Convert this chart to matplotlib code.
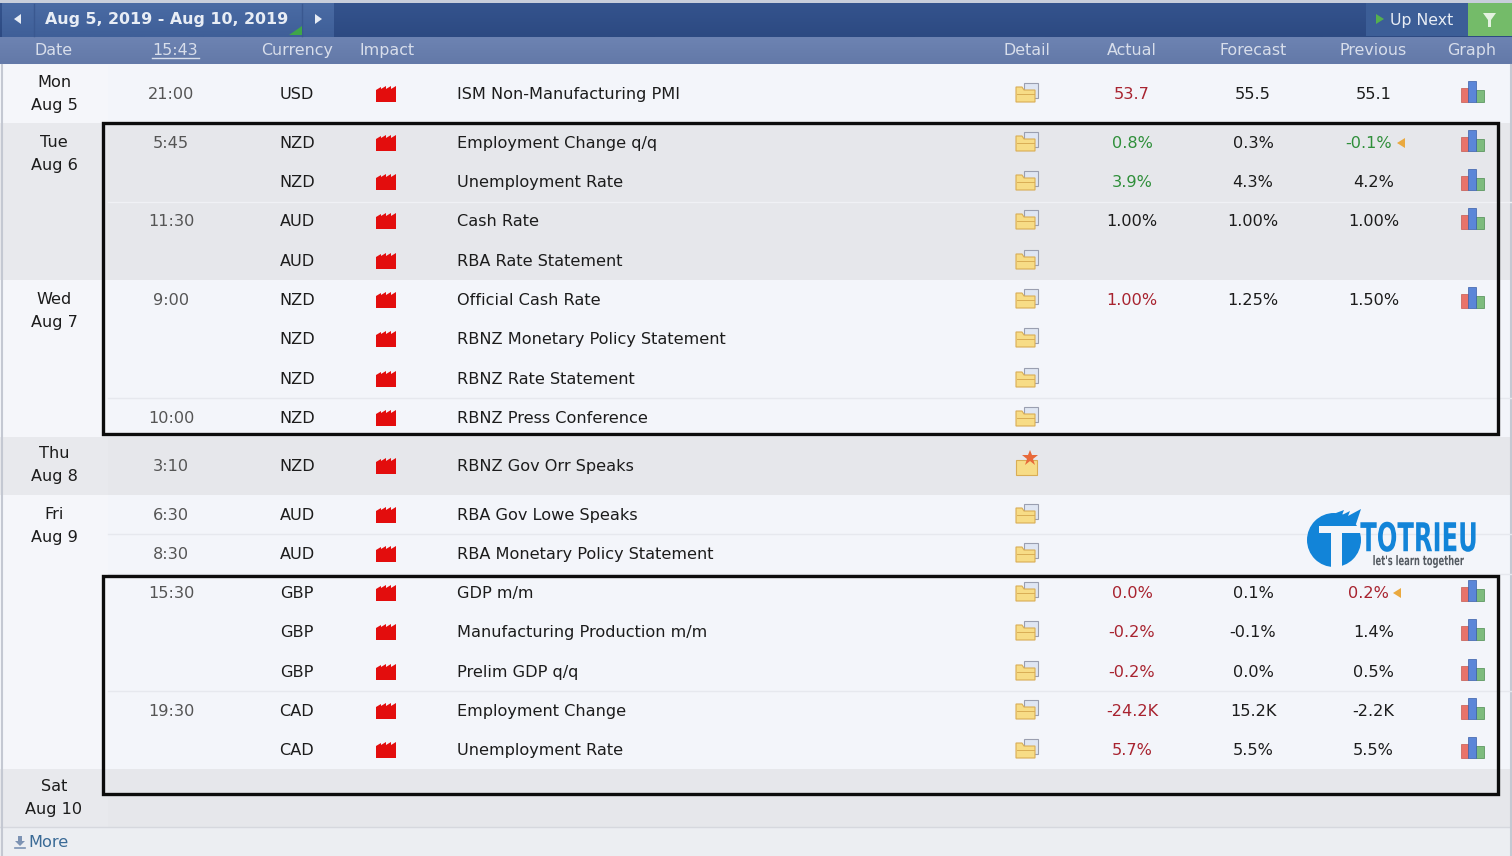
import matplotlib
matplotlib.use("Agg")
import matplotlib.pyplot as plt
import matplotlib.patheffects as pe
import numpy as np
from matplotlib.patches import Circle, Polygon, Rectangle
from matplotlib.transforms import Affine2D

days = ["Mon\nAug 5", "Tue\nAug 6", "Wed\nAug 7", "Thu\nAug 8", "Fri\nAug 9", "Sat\nAug 10"]
times = ["21:00", "5:45", "", "11:30", "", "9:00", "", "", "10:00", "3:10", "6:30", "8:30",
         "15:30", "", "", "19:30", ""]
currencies = ["USD", "NZD", "NZD", "AUD", "AUD", "NZD", "NZD", "NZD", "NZD", "NZD", "AUD", "AUD",
              "GBP", "GBP", "GBP", "CAD", "CAD"]
events = ["ISM Non-Manufacturing PMI", "Employment Change q/q", "Unemployment Rate", "Cash Rate",
          "RBA Rate Statement", "Official Cash Rate", "RBNZ Monetary Policy Statement",
          "RBNZ Rate Statement", "RBNZ Press Conference", "RBNZ Gov Orr Speaks", "RBA Gov Lowe Speaks",
          "RBA Monetary Policy Statement", "GDP m/m", "Manufacturing Production m/m", "Prelim GDP q/q",
          "Employment Change", "Unemployment Rate"]
actual = ["53.7", "0.8%", "3.9%", "1.00%", "", "1.00%", "", "", "", "", "", "",
          "0.0%", "-0.2%", "-0.2%", "-24.2K", "5.7%"]
actual_tone = ["r", "g", "g", "k", "", "r", "", "", "", "", "", "", "r", "r", "r", "r", "r"]
forecast = ["55.5", "0.3%", "4.3%", "1.00%", "", "1.25%", "", "", "", "", "", "",
            "0.1%", "-0.1%", "0.0%", "15.2K", "5.5%"]
previous = ["55.1", "-0.1%", "4.2%", "1.00%", "", "1.50%", "", "", "", "", "", "",
            "0.2%", "1.4%", "0.5%", "-2.2K", "5.5%"]
previous_tone = ["k", "g", "k", "k", "", "k", "", "", "", "", "", "", "r", "k", "k", "k", "k"]
columns = ["Date", "15:43", "Currency", "Impact", "Detail", "Actual", "Forecast", "Previous", "Graph"]

# layout, in reference pixels
HEIGHT = 856
row_y = [94, 143, 182, 221, 261, 300, 339, 379, 418, 466, 515, 554, 593, 632, 672, 711, 750]
day_edges = [65, 123, 280, 437, 495, 769, 827]
day_bands = ["w", "g", "w", "g", "w", "g"]
day_label_y = [94, 154, 311, 465, 526, 798]
column_x = [54, 175, 297, 387, 1027, 1132, 1253, 1373, 1472]
WHITE = "#f3f5fa"
GREY = "#e6e7eb"
tones = {"r": "#a8232f", "g": "#2f8f3a", "k": "#1c1c1c"}
FONT = "DejaVu Sans"
SIZE = 11.6
TEXT_DY = 0.7

fig = plt.figure(figsize=(15.12, 8.56), dpi=100)
ax = fig.add_axes([0, 0, 1, 1])
ax.set_xlim(0, 1512)
ax.set_ylim(HEIGHT, 0)
ax.axis("off")


class Stretch(pe.AbstractPathEffect):
    # resizes text around a pixel point, no condensed font is installed
    def __init__(self, sx, sy, x, y):
        super().__init__()
        self.sx = sx
        self.sy = sy
        self.x = x
        self.y = HEIGHT - y

    def draw_path(self, renderer, gc, tpath, affine, rgbFace=None):
        scale = Affine2D().translate(-self.x, -self.y).scale(self.sx, self.sy).translate(self.x, self.y)
        renderer.draw_path(gc, tpath, affine + scale, rgbFace)


def box(x0, y0, x1, y1, color, z=1):
    ax.add_patch(Rectangle((x0, y0), x1 - x0, y1 - y0, fc=color, ec="none", zorder=z))


def gradient(x0, y0, x1, y1, top, bottom, z=1):
    c0 = np.array(matplotlib.colors.to_rgb(top))
    c1 = np.array(matplotlib.colors.to_rgb(bottom))
    t = np.linspace(0, 1, 32)[:, None, None]
    ax.imshow(c0 + (c1 - c0) * t, extent=(x0, x1, y1, y0), aspect="auto", zorder=z)


def label(x, y, text, color="#1c1c1c", ha="center"):
    ax.text(x, y + TEXT_DY, text, color=color, fontsize=SIZE, ha=ha, va="center", family=FONT, zorder=5)


def factory(x, y):
    # small red impact block with a sawtooth roof
    pts = [(x - 10, y + 8), (x - 10, y - 4), (x - 5, y - 7), (x - 5, y - 5), (x, y - 8), (x, y - 5),
           (x + 5, y - 8), (x + 5, y - 5), (x + 10, y - 8), (x + 10, y + 8)]
    ax.add_patch(Polygon(pts, fc="#e30d0d", ec="none", zorder=3))


def folder(x, y, star=False):
    if star:
        ax.add_patch(Rectangle((x - 11, y - 5), 21, 15, fc="#f7dc86", ec="#d9ad55", lw=0.8, zorder=3))
        ax.plot([x + 3], [y - 7], marker="*", ms=12, color="#e8693a", zorder=4, mew=0)
        return
    ax.add_patch(Rectangle((x - 3, y - 10), 14, 15, fc="#dfe6f3", ec="#9a9fb0", lw=0.8, zorder=3))
    ax.add_patch(Polygon([(x - 11, y - 6), (x - 5, y - 6), (x - 3, y - 3), (x + 8, y - 3), (x + 8, y + 9),
                          (x - 11, y + 9)], fc="#f7dc86", ec="#d9ad55", lw=0.8, zorder=4))
    ax.plot([x - 10, x + 7], [y + 1, y + 1], color="#d9ad55", lw=0.7, zorder=5)


def graph(x, y):
    ax.add_patch(Rectangle((x - 11, y - 5), 7, 14, fc="#e8736a", ec="#c45a52", lw=0.5, zorder=3))
    ax.add_patch(Rectangle((x - 4, y - 12), 8, 21, fc="#5b86d8", ec="#3a5ea8", lw=0.5, zorder=4))
    ax.add_patch(Rectangle((x + 4, y - 3), 8, 12, fc="#7dbb7d", ec="#4c8c50", lw=0.5, zorder=3))


# top bar and column header
box(0, 0, 1512, HEIGHT, WHITE, 0)
box(0, 0, 1512, 3, "#c8cedb", 1)
gradient(0, 3, 1512, 37, "#34538d", "#2d4a82", 1)
gradient(2, 3, 334, 37, "#4a6ba4", "#3f5f98", 2)
ax.plot([34, 34], [4, 36], color="#3a5890", lw=1, zorder=3)
ax.plot([302, 302], [4, 36], color="#3a5890", lw=1, zorder=3)
box(1366, 3, 1468, 36, "#3c5e97", 2)
box(1468, 3, 1512, 36, "#74bb69", 2)
gradient(0, 37, 1512, 64, "#6d83b2", "#6379a8", 1)

ax.text(167, 19.5, "Aug 5, 2019 - Aug 10, 2019", color="#e8edf5", fontsize=11.4, fontweight="bold",
        ha="center", va="center", family=FONT, zorder=5)
ax.add_patch(Polygon([(14, 19), (21, 14), (21, 24)], fc="#e8edf5", zorder=5))
ax.add_patch(Polygon([(322, 19), (315, 14), (315, 24)], fc="#e8edf5", zorder=5))
ax.add_patch(Polygon([(289, 35), (302, 35), (302, 26)], fc="#3fa648", zorder=5))
ax.add_patch(Polygon([(1376, 14), (1376, 24), (1384, 19)], fc="#55b04e", zorder=5))
ax.text(1422, 20, "Up Next", color="#e8edf5", fontsize=11.3, ha="center", va="center", family=FONT, zorder=5)
ax.add_patch(Polygon([(1483, 13), (1496, 13), (1491, 20), (1491, 27), (1488, 27), (1488, 20)],
                     fc="#e4f2e0", zorder=5))

for name, x in zip(columns, column_x):
    ax.text(x, 50.5, name, color="#d8deeb", fontsize=11.4, ha="center", va="center", family=FONT, zorder=5)
ax.plot([152, 199], [58, 58], color="#d8deeb", lw=1, zorder=5)

# day bands, date column is a touch lighter
for i, day in enumerate(days):
    band = WHITE if day_bands[i] == "w" else GREY
    box(0, day_edges[i], 1512, day_edges[i + 1], band, 1)
    box(0, day_edges[i], 108, day_edges[i + 1], "#f5f6fa" if band == WHITE else "#e8e9ed", 1.2)
    ax.text(54, day_label_y[i], day, color="#1c1c1c", fontsize=SIZE, ha="center", va="center",
            family=FONT, linespacing=1.6, zorder=5)
box(0, 827, 1512, HEIGHT, "#eceef2", 1)
ax.plot([0, 1512], [827, 827], color="#d6d8de", lw=1, zorder=2)
ax.plot([1.5, 1.5], [65, HEIGHT], color="#c4c8d2", lw=1.5, zorder=2)
ax.plot([1510.5, 1510.5], [65, HEIGHT], color="#c4c8d2", lw=1.5, zorder=2)
ax.plot([108, 1512], [202, 202], color="#f0f1f5", lw=1, zorder=2)
for y in [398, 534, 574, 691]:
    ax.plot([108, 1512], [y, y], color="#e6e8ee", lw=1, zorder=2)

# table rows
for i, y in enumerate(row_y):
    label(171, y, times[i], color="#555555")
    label(297, y, currencies[i])
    label(457, y, events[i], ha="left")
    factory(386, y)
    folder(1027, y - 1, star=events[i] == "RBNZ Gov Orr Speaks")
    if actual[i]:
        label(1132, y, actual[i], color=tones[actual_tone[i]])
        label(1253, y, forecast[i])
        graph(1472, y - 1)
        revised = previous[i] in ("-0.1%", "0.2%")
        label(1368.5 if revised else 1373.5, y, previous[i], color=tones[previous_tone[i]])
        if revised:
            tip = 1397 if previous[i] == "-0.1%" else 1393
            ax.add_patch(Polygon([(tip, y), (tip + 8, y - 5), (tip + 8, y + 5)], fc="#eaa93f", zorder=5))

# highlight frames
for y0, y1 in [(123, 434), (576, 794)]:
    ax.add_patch(Rectangle((103, y0), 1395, y1 - y0, fc="none", ec="#0c0c0c", lw=2.4, zorder=6))

ax.text(48.5, 842.5, "More", color="#3a6a96", fontsize=SIZE, ha="center", va="center", family=FONT, zorder=5)
ax.add_patch(Polygon([(18, 836), (22, 836), (22, 841), (25, 841), (20, 846), (15, 841), (18, 841)],
                     fc="#7d93b4", zorder=5))
ax.plot([15, 25], [848, 848], color="#7d93b4", lw=1.2, zorder=5)

# watermark logo
LOGO = "#1284d8"
ax.add_patch(Circle((1334, 540), 27, fc=LOGO, ec="none", zorder=5))
ax.add_patch(Polygon([(1336, 513), (1344, 510), (1342, 515), (1350, 511), (1348, 516), (1361, 509),
                      (1356, 524), (1340, 526)], fc=LOGO, zorder=5))
box(1319, 526, 1362, 533, WHITE, 6)
box(1331, 533, 1342, 568, WHITE, 6)
ax.text(1419, 540.5, "TOTRIEU", color=LOGO, fontsize=16, fontweight="bold", ha="center", va="center",
        family=FONT, zorder=7, path_effects=[Stretch(1.09, 1.79, 1419, 540.5)])
ax.text(1418.5, 561, "let's learn together", color="#555b62", fontsize=7, fontweight="bold", ha="center",
        va="center", family=FONT, zorder=7, path_effects=[Stretch(0.86, 1.36, 1418.5, 561)])

fig.savefig("out.png", dpi=100)
